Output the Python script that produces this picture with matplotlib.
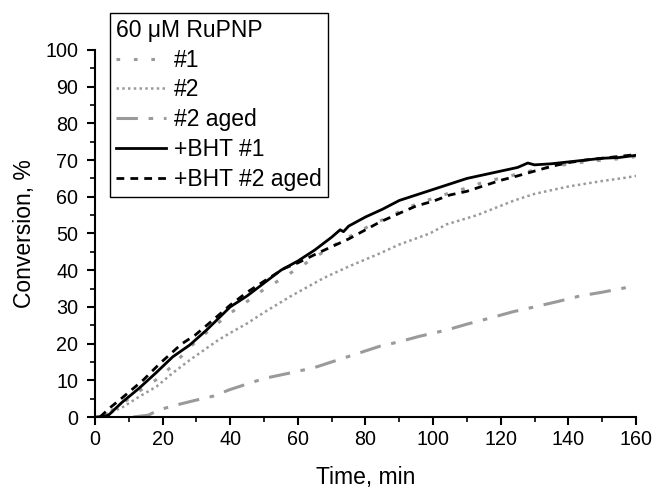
import matplotlib
matplotlib.use("Agg")
import matplotlib.pyplot as plt
from matplotlib.ticker import MultipleLocator

plt.rcParams['font.family'] = ['Liberation Sans', 'DejaVu Sans']

# +BHT #1 (solid black)
bht1_x = [1, 4, 8, 13, 18, 23, 28, 33, 40, 45, 50, 55, 60, 65, 70, 72.5, 73.5, 75, 80, 85,
          90, 95, 100, 105, 110, 115, 120, 125, 128, 130, 135, 140, 145, 150, 155, 160]
bht1_y = [0, 0.5, 4, 7.8, 12, 16.4, 19.6, 23.7, 30, 33, 36.5, 40, 42.5, 45.5, 49, 51, 50.5, 52, 54.5, 56.6,
          59, 60.5, 62, 63.5, 65, 66, 67, 68, 69.2, 68.7, 69, 69.5, 70, 70.5, 70.7, 71.3]

# +BHT #2 aged (dashed black)
bht2_x = [1.5, 4.4, 8.4, 14.3, 19.2, 25.6, 29.6, 35, 40, 45, 50, 56, 60, 66, 70, 75, 80, 84,
          90, 95, 100, 105, 110, 115, 120, 125, 130, 135, 140, 145, 150, 155, 160]
bht2_y = [0, 2.5, 5.5, 10.1, 14.6, 19.9, 22.3, 26.5, 30.5, 34, 37, 40.5, 42, 44.7, 46.4, 48.5, 51, 53,
          55.5, 57.5, 58.8, 60.5, 61.5, 63, 64.5, 65.7, 67, 68.3, 69.3, 70, 70.5, 71, 71.5]

# #1 (gray, sparse dashes)
s1_x = [0, 3, 8.4, 13, 18, 23, 28, 33, 40, 45, 50, 54, 60, 65, 72.5, 80, 89, 95, 103, 108.5,
        115, 123.7, 130, 138.5, 145, 150, 157, 160]
s1_y = [0, 0.5, 3.9, 7, 10.1, 14, 19, 23, 28.3, 31.5, 34.8, 37, 40.5, 43.5, 47.8, 51.5, 55.5, 58, 60.5, 62,
        64, 65.9, 67.3, 68.7, 69.5, 70, 70.5, 71]

# #2 (gray, dotted)
s2_x = [0, 3, 8.4, 13, 18.2, 23, 28, 36.5, 40, 45, 50, 57.7, 62, 67.5, 75, 84.3, 90, 99, 104,
        113, 124, 130, 140, 150, 157, 160]
s2_y = [0, 0.5, 2.8, 5.5, 8.3, 12, 15.5, 21, 22.9, 25.5, 28.5, 32.8, 35, 37.8, 41, 44.6, 47, 50, 52.5,
        55, 59, 60.8, 62.8, 64.3, 65.2, 65.7]

# #2 aged (gray, dash-dot)
s2a_x = [11.3, 15.8, 18.7, 24.2, 29, 35, 40, 45, 50, 57.7, 65, 70, 75, 84.3, 90, 96, 104, 110,
         117, 123.7, 130, 137, 143.5, 150, 157.3, 159]
s2a_y = [0, 0.5, 1.9, 3.3, 4.4, 5.7, 7.5, 9, 10.5, 12, 13.5, 15, 16.5, 19.3, 20.5, 22, 23.7, 25.3,
         27, 28.7, 30, 31.5, 33, 34, 35.3, 35.7]

gray = '#9a9a9a'

fig = plt.figure(figsize=(6.56, 4.91), dpi=100)
ax = fig.add_axes([0.1448, 0.1507, 0.8247, 0.7475])

ax.plot(s1_x, s1_y, color=gray, lw=2.2, linestyle=(0, (1.2, 4.5)), label='#1')
ax.plot(s2_x, s2_y, color=gray, lw=1.8, linestyle=(0, (1, 1.3)), label='#2')
ax.plot(s2a_x, s2a_y, color=gray, lw=2.2, linestyle=(0, (7, 3.5, 1.5, 3.5)), label='#2 aged')
ax.plot(bht1_x, bht1_y, color='black', lw=2.0, label='+BHT #1')
ax.plot(bht2_x, bht2_y, color='black', lw=2.0, linestyle=(0, (2.8, 2.2)), label='+BHT #2 aged')

ax.set_xlim(0, 160)
ax.set_ylim(0, 100)
ax.xaxis.set_major_locator(MultipleLocator(20))
ax.xaxis.set_minor_locator(MultipleLocator(10))
ax.yaxis.set_major_locator(MultipleLocator(10))
ax.yaxis.set_minor_locator(MultipleLocator(5))

for s in ['top', 'right']:
    ax.spines[s].set_visible(False)
for s in ['left', 'bottom']:
    ax.spines[s].set_linewidth(1.5)

ax.tick_params(which='major', direction='out', length=6, width=1.5, labelsize=14.2, colors='black')
ax.tick_params(which='minor', direction='out', length=3.5, width=1.2)
ax.tick_params(axis='y', which='major', pad=6)

ax.set_xlabel('Time, min', fontsize=16.5, labelpad=12)
ax.set_ylabel('Conversion, %', fontsize=16.5, labelpad=7)

leg = ax.legend(title='60 μM RuPNP', loc='upper left', bbox_to_anchor=(0.0277, 1.1008),
                fontsize=16.5, title_fontsize=16.5, alignment='left', frameon=True,
                fancybox=False, edgecolor='black', framealpha=1, borderpad=0.25,
                labelspacing=0.3, handlelength=2.2, handletextpad=0.35, borderaxespad=0)
leg.get_frame().set_linewidth(1.0)

fig.savefig('out.png', dpi=100)
